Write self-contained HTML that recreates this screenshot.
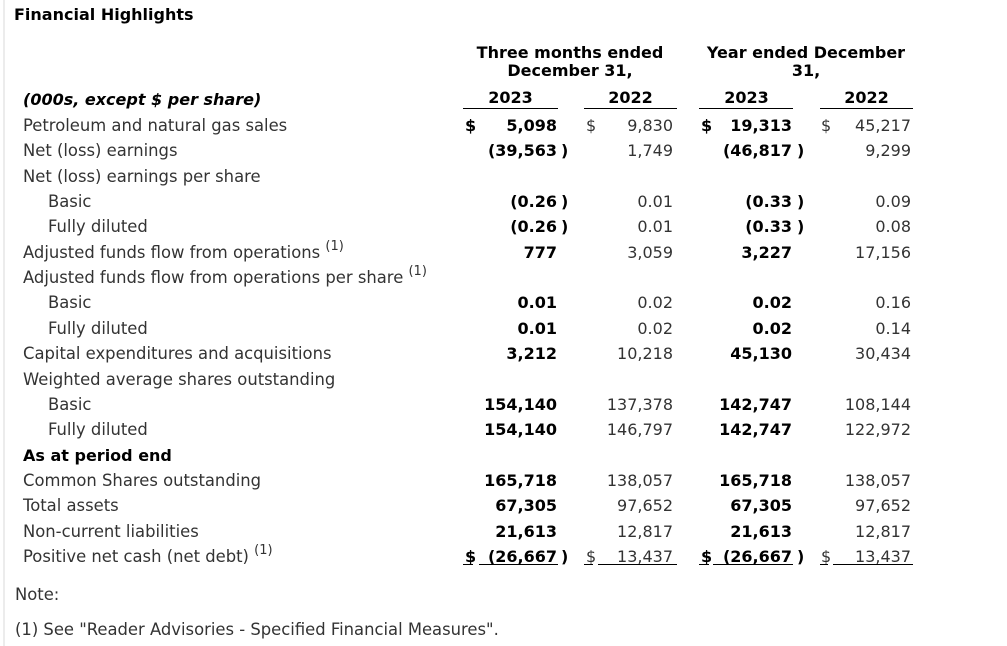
<!DOCTYPE html>
<html><head><meta charset="utf-8"><style>
html,body{margin:0;padding:0;background:#fff;}
body{width:1007px;height:646px;position:relative;overflow:hidden;font-family:"DejaVu Sans","Liberation Sans",sans-serif;font-size:16px;color:#333;}
.t{position:absolute;white-space:nowrap;line-height:20px;}
.l{font-size:16.4px;}
.r{text-align:right;width:120px;}
.c{text-align:center;width:260px;}
.b{font-weight:bold;color:#000;}
sup{font-size:13px;line-height:0;vertical-align:8px;}
.ln{position:absolute;height:1px;background:#000;}
</style></head><body>
<div style="position:absolute;left:3px;top:0;width:2px;height:646px;background:#ececec"></div>
<div class="t b" style="left:14px;top:5px">Financial Highlights</div>

<div class="t c b" style="left:440px;top:43px">Three months ended</div>
<div class="t c b" style="left:440px;top:61px">December 31,</div>
<div class="t c b" style="left:676px;top:43px">Year ended December</div>
<div class="t c b" style="left:676px;top:61px">31,</div>

<div class="t b" style="left:23px;top:90px;font-style:italic">(000s, except $ per share)</div>
<div class="t b" style="left:460px;top:88px;width:101px;text-align:center">2023</div>
<div class="t b" style="left:580px;top:88px;width:101px;text-align:center">2022</div>
<div class="t b" style="left:696px;top:88px;width:101px;text-align:center">2023</div>
<div class="t b" style="left:816px;top:88px;width:101px;text-align:center">2022</div>
<div class="ln" style="left:463px;top:108px;width:95px"></div>
<div class="ln" style="left:584px;top:108px;width:93px"></div>
<div class="ln" style="left:699px;top:108px;width:94px"></div>
<div class="ln" style="left:820px;top:108px;width:93px"></div>

<!-- labels -->
<div class="t l" style="left:23px;top:116px">Petroleum and natural gas sales</div>
<div class="t l" style="left:23px;top:141px">Net (loss) earnings</div>
<div class="t l" style="left:23px;top:167px">Net (loss) earnings per share</div>
<div class="t l" style="left:48px;top:192px">Basic</div>
<div class="t l" style="left:48px;top:217px">Fully diluted</div>
<div class="t l" style="left:23px;top:243px">Adjusted funds flow from operations <sup>(1)</sup></div>
<div class="t l" style="left:23px;top:268px">Adjusted funds flow from operations per share <sup>(1)</sup></div>
<div class="t l" style="left:48px;top:293px">Basic</div>
<div class="t l" style="left:48px;top:319px">Fully diluted</div>
<div class="t l" style="left:23px;top:344px">Capital expenditures and acquisitions</div>
<div class="t l" style="left:23px;top:370px">Weighted average shares outstanding</div>
<div class="t l" style="left:48px;top:395px">Basic</div>
<div class="t l" style="left:48px;top:420px">Fully diluted</div>
<div class="t b" style="left:23px;top:446px">As at period end</div>
<div class="t l" style="left:23px;top:471px">Common Shares outstanding</div>
<div class="t l" style="left:23px;top:496px">Total assets</div>
<div class="t l" style="left:23px;top:522px">Non-current liabilities</div>
<div class="t l" style="left:23px;top:547px">Positive net cash (net debt) <sup>(1)</sup></div>

<!-- row 0 -->
<div class="t b" style="left:465px;top:116px">$</div>
<div class="t r b" style="left:437px;top:116px">5,098</div>
<div class="t" style="left:586px;top:116px">$</div>
<div class="t r" style="left:553px;top:116px">9,830</div>
<div class="t b" style="left:701px;top:116px">$</div>
<div class="t r b" style="left:672px;top:116px">19,313</div>
<div class="t" style="left:821px;top:116px">$</div>
<div class="t r" style="left:791px;top:116px">45,217</div>
<!-- row 1 -->
<div class="t r b" style="left:437px;top:141px">(39,563</div><div class="t b" style="left:561px;top:141px">)</div>
<div class="t r" style="left:553px;top:141px">1,749</div>
<div class="t r b" style="left:672px;top:141px">(46,817</div><div class="t b" style="left:797px;top:141px">)</div>
<div class="t r" style="left:791px;top:141px">9,299</div>
<!-- row 3 -->
<div class="t r b" style="left:437px;top:192px">(0.26</div><div class="t b" style="left:561px;top:192px">)</div>
<div class="t r" style="left:553px;top:192px">0.01</div>
<div class="t r b" style="left:672px;top:192px">(0.33</div><div class="t b" style="left:797px;top:192px">)</div>
<div class="t r" style="left:791px;top:192px">0.09</div>
<!-- row 4 -->
<div class="t r b" style="left:437px;top:217px">(0.26</div><div class="t b" style="left:561px;top:217px">)</div>
<div class="t r" style="left:553px;top:217px">0.01</div>
<div class="t r b" style="left:672px;top:217px">(0.33</div><div class="t b" style="left:797px;top:217px">)</div>
<div class="t r" style="left:791px;top:217px">0.08</div>
<!-- row 5 -->
<div class="t r b" style="left:437px;top:243px">777</div>
<div class="t r" style="left:553px;top:243px">3,059</div>
<div class="t r b" style="left:672px;top:243px">3,227</div>
<div class="t r" style="left:791px;top:243px">17,156</div>
<!-- row 7 -->
<div class="t r b" style="left:437px;top:293px">0.01</div>
<div class="t r" style="left:553px;top:293px">0.02</div>
<div class="t r b" style="left:672px;top:293px">0.02</div>
<div class="t r" style="left:791px;top:293px">0.16</div>
<!-- row 8 -->
<div class="t r b" style="left:437px;top:319px">0.01</div>
<div class="t r" style="left:553px;top:319px">0.02</div>
<div class="t r b" style="left:672px;top:319px">0.02</div>
<div class="t r" style="left:791px;top:319px">0.14</div>
<!-- row 9 -->
<div class="t r b" style="left:437px;top:344px">3,212</div>
<div class="t r" style="left:553px;top:344px">10,218</div>
<div class="t r b" style="left:672px;top:344px">45,130</div>
<div class="t r" style="left:791px;top:344px">30,434</div>
<!-- row 11 -->
<div class="t r b" style="left:437px;top:395px">154,140</div>
<div class="t r" style="left:553px;top:395px">137,378</div>
<div class="t r b" style="left:672px;top:395px">142,747</div>
<div class="t r" style="left:791px;top:395px">108,144</div>
<!-- row 12 -->
<div class="t r b" style="left:437px;top:420px">154,140</div>
<div class="t r" style="left:553px;top:420px">146,797</div>
<div class="t r b" style="left:672px;top:420px">142,747</div>
<div class="t r" style="left:791px;top:420px">122,972</div>
<!-- row 14 -->
<div class="t r b" style="left:437px;top:471px">165,718</div>
<div class="t r" style="left:553px;top:471px">138,057</div>
<div class="t r b" style="left:672px;top:471px">165,718</div>
<div class="t r" style="left:791px;top:471px">138,057</div>
<!-- row 15 -->
<div class="t r b" style="left:437px;top:496px">67,305</div>
<div class="t r" style="left:553px;top:496px">97,652</div>
<div class="t r b" style="left:672px;top:496px">67,305</div>
<div class="t r" style="left:791px;top:496px">97,652</div>
<!-- row 16 -->
<div class="t r b" style="left:437px;top:522px">21,613</div>
<div class="t r" style="left:553px;top:522px">12,817</div>
<div class="t r b" style="left:672px;top:522px">21,613</div>
<div class="t r" style="left:791px;top:522px">12,817</div>
<!-- row 17 -->
<div class="t b" style="left:465px;top:547px">$</div>
<div class="t r b" style="left:437px;top:547px">(26,667</div><div class="t b" style="left:561px;top:547px">)</div>
<div class="t" style="left:586px;top:547px">$</div>
<div class="t r" style="left:553px;top:547px">13,437</div>
<div class="t b" style="left:701px;top:547px">$</div>
<div class="t r b" style="left:672px;top:547px">(26,667</div><div class="t b" style="left:797px;top:547px">)</div>
<div class="t" style="left:821px;top:547px">$</div>
<div class="t r" style="left:791px;top:547px">13,437</div>
<div class="ln" style="left:463px;top:564px;width:10px"></div>
<div class="ln" style="left:479px;top:564px;width:79px"></div>
<div class="ln" style="left:584px;top:564px;width:9px"></div>
<div class="ln" style="left:598px;top:564px;width:79px"></div>
<div class="ln" style="left:699px;top:564px;width:10px"></div>
<div class="ln" style="left:713px;top:564px;width:80px"></div>
<div class="ln" style="left:820px;top:564px;width:8px"></div>
<div class="ln" style="left:833px;top:564px;width:80px"></div>

<div class="t l" style="left:15px;top:585px">Note:</div>
<div class="t l" style="left:15px;top:620px">(1) See "Reader Advisories - Specified Financial Measures".</div>
</body></html>
